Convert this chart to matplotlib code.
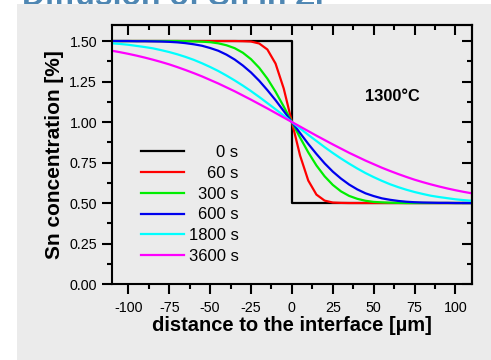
import matplotlib
matplotlib.use("Agg")
from matplotlib import pyplot as plt
from matplotlib.patches import Rectangle
from matplotlib.transforms import Bbox, TransformedBbox
from matplotlib.ticker import MultipleLocator, FormatStrFormatter

plt.rcParams['font.family'] = ['Liberation Sans', 'DejaVu Sans']
plt.rcParams['axes.unicode_minus'] = False

# distance to the interface [um]
x = [-110, -105, -100, -95, -90, -85, -80, -75, -70, -65, -60, -55, -50, -45, -40,
     -35, -30, -25, -20, -15, -10, -5, 0, 5, 10, 15, 20, 25, 30, 35, 40, 45, 50,
     55, 60, 65, 70, 75, 80, 85, 90, 95, 100, 105, 110]

# 0 s: initial step profile
x_step = [-110, 0, 0, 110]
c_0s = [1.5, 1.5, 0.5, 0.5]

c_60s = [1.500, 1.500, 1.500, 1.500, 1.500, 1.500, 1.500, 1.500, 1.500, 1.500, 1.500,
         1.500, 1.500, 1.500, 1.500, 1.500, 1.499, 1.497, 1.485, 1.448, 1.361, 1.207,
         1.000, 0.793, 0.639, 0.552, 0.515, 0.503, 0.501, 0.500, 0.500, 0.500, 0.500,
         0.500, 0.500, 0.500, 0.500, 0.500, 0.500, 0.500, 0.500, 0.500, 0.500, 0.500, 0.500]

c_300s = [1.500, 1.500, 1.500, 1.500, 1.500, 1.500, 1.500, 1.500, 1.500, 1.499, 1.498,
          1.496, 1.493, 1.486, 1.474, 1.456, 1.428, 1.388, 1.335, 1.268, 1.187, 1.096,
          1.000, 0.904, 0.813, 0.732, 0.665, 0.612, 0.572, 0.544, 0.526, 0.514, 0.507,
          0.504, 0.502, 0.501, 0.500, 0.500, 0.500, 0.500, 0.500, 0.500, 0.500, 0.500, 0.500]

c_600s = [1.500, 1.500, 1.500, 1.499, 1.499, 1.498, 1.497, 1.495, 1.492, 1.487, 1.480,
          1.471, 1.457, 1.440, 1.416, 1.386, 1.349, 1.306, 1.255, 1.197, 1.135, 1.068,
          1.000, 0.932, 0.865, 0.803, 0.745, 0.694, 0.651, 0.614, 0.584, 0.560, 0.543,
          0.529, 0.520, 0.513, 0.508, 0.505, 0.503, 0.502, 0.501, 0.501, 0.500, 0.500, 0.500]

c_1800s = [1.486, 1.482, 1.477, 1.470, 1.463, 1.455, 1.444, 1.432, 1.418, 1.402, 1.384,
           1.363, 1.340, 1.315, 1.287, 1.257, 1.225, 1.191, 1.155, 1.117, 1.079, 1.040,
           1.000, 0.960, 0.921, 0.883, 0.845, 0.809, 0.775, 0.743, 0.713, 0.685, 0.660,
           0.637, 0.616, 0.598, 0.582, 0.568, 0.556, 0.545, 0.537, 0.530, 0.523, 0.518, 0.514]

c_3600s = [1.440, 1.431, 1.421, 1.410, 1.398, 1.385, 1.371, 1.356, 1.339, 1.321, 1.302,
           1.282, 1.260, 1.238, 1.214, 1.190, 1.164, 1.138, 1.111, 1.084, 1.056, 1.028,
           1.000, 0.972, 0.944, 0.916, 0.889, 0.862, 0.836, 0.810, 0.786, 0.762, 0.740,
           0.718, 0.698, 0.679, 0.661, 0.644, 0.629, 0.615, 0.602, 0.590, 0.579, 0.569, 0.560]

labels = ['0 s', '60 s', '300 s', '600 s', '1800 s', '3600 s']
colors = ['#000000', '#ff0000', '#00ee00', '#0000ee', '#00ffff', '#ff00ff']

bg = '#ebebeb'
fig = plt.figure(figsize=(4.91, 3.60), dpi=100, facecolor='white')
# grey slide panel behind the chart (it hides most of the page title)
panel_top = 356 / 360
fig.patches.append(Rectangle((17 / 491, 0), 1, panel_top, transform=fig.transFigure,
                             facecolor=bg, edgecolor='none', zorder=-1))
ax = fig.add_axes([0.228, 0.211, 0.733, 0.720], facecolor=bg)

ax.plot(x_step, c_0s, color=colors[0], lw=1.6, label=labels[0])
series = [c_60s, c_300s, c_600s, c_1800s, c_3600s]
for c, col, lab in zip(series, colors[1:], labels[1:]):
    ax.plot(x, c, color=col, lw=1.6, label=lab)

ax.set_xlim(-110, 110)
ax.set_ylim(0, 1.6)
ax.xaxis.set_major_locator(MultipleLocator(25))
ax.xaxis.set_minor_locator(MultipleLocator(12.5))
ax.yaxis.set_major_locator(MultipleLocator(0.25))
ax.yaxis.set_minor_locator(MultipleLocator(0.125))
ax.yaxis.set_major_formatter(FormatStrFormatter('%.2f'))

for s in ax.spines.values():
    s.set_linewidth(1.5)
ax.tick_params(which='both', direction='out', width=1.5, labelsize=10.3)
ax.tick_params(axis='x', pad=5)
ax.tick_params(axis='y', pad=3.5)
ax.tick_params(which='major', length=7.2)
ax.tick_params(which='minor', length=3.6)
# top and right axes: ticks pointing inwards, no labels
top = ax.secondary_xaxis('top')
top.xaxis.set_major_locator(MultipleLocator(25))
top.xaxis.set_minor_locator(MultipleLocator(12.5))
top.tick_params(which='both', direction='in', width=1.5, labeltop=False)
top.tick_params(which='major', length=7.2)
top.tick_params(which='minor', length=3.6)
top.spines['top'].set_linewidth(1.5)
right = ax.secondary_yaxis('right')
right.yaxis.set_major_locator(MultipleLocator(0.25))
right.yaxis.set_minor_locator(MultipleLocator(0.125))
right.tick_params(which='both', direction='in', width=1.5, labelright=False)
right.tick_params(which='major', length=7.2)
right.tick_params(which='minor', length=3.6)
right.spines['right'].set_linewidth(1.5)

ax.set_xlabel('distance to the interface [µm]', fontsize=14.5, fontweight='bold', labelpad=1)
ax.set_ylabel('Sn concentration [%]', fontsize=15, fontweight='bold', labelpad=4)

ax.text(0.78, 0.725, '1300°C', transform=ax.transAxes, fontsize=11.8,
        fontweight='bold', ha='center', va='center')

leg = ax.legend(loc='upper left', bbox_to_anchor=(0.081, 0.537), frameon=False,
                fontsize=12.0, handlelength=2.55, handletextpad=0.3,
                labelspacing=0.35, borderpad=0, borderaxespad=0)
for h in leg.get_lines():
    h.set_linewidth(1.6)

# right-align the legend labels
fig.canvas.draw()
widths = [t.get_window_extent().width for t in leg.get_texts()]
wmax = max(widths)
for t, w in zip(leg.get_texts(), widths):
    t.set_position((wmax - w, 0))

# page title sits behind the grey panel, only its lowest strip shows
title = fig.text(0.045, 0.985, 'Diffusion of Sn in Zr', fontsize=23, fontweight='bold',
                 color='#4f87b3', va='baseline', ha='left', zorder=-2)
title.set_clip_box(TransformedBbox(Bbox([[0, panel_top], [1, 1]]), fig.transFigure))
title.set_clip_on(True)

fig.savefig('out.png', dpi=100, facecolor='white')
